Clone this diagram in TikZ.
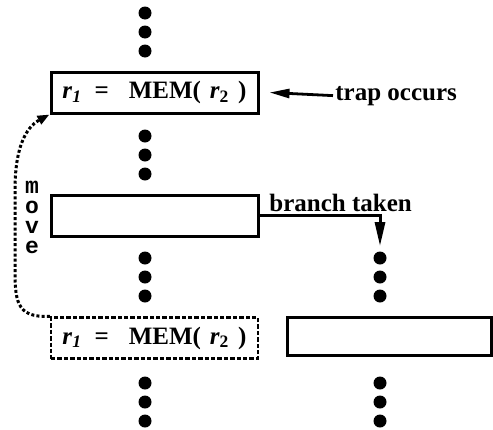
\documentclass[tikz,border=0pt]{standalone}
\usepackage{fontspec}
\setmainfont{Liberation Serif}
\newfontfamily\movefont{Liberation Mono}
\usepackage{tikz}
\usetikzlibrary{positioning}
\usetikzlibrary{arrows.meta}

\newcommand{\memtext}{\textit{r}\textsubscript{\textit{1}}\hspace{0.5em}=\hspace{0.8em}MEM(\hspace{0.35em}\textit{r}\textsubscript{2}\hspace{0.35em})}

\begin{document}
\begin{tikzpicture}[x=0.5pt, y=-0.5pt, font=\bfseries\fontsize{12.5}{15}\selectfont,
	instr/.style={rectangle, draw, line width=1.5pt, minimum width=103.5pt, minimum height=20.5pt, inner sep=0pt},
	ghost/.style={instr, line width=1.2pt, dash pattern=on 2.2pt off 1pt},
	dot/.style={circle, fill, inner sep=0pt, minimum size=6.5pt},
	letter/.style={inner sep=0pt, font=\movefont\bfseries\fontsize{11.5}{11.5}\selectfont},
	tip/.style={-{Triangle[length=10pt, width=4.5pt]}}]
	\useasboundingbox (0,0) rectangle (493,429);
	
	\def\dd{19}
	\foreach \x/\y/\n in {145/13/a, 145/136/b, 145/258/c, 145/383/d, 380/258/e, 380/383/f}
		\foreach \k in {0,1,2}
			\node[dot] (\n\k) at (\x,{\y+\dd*\k}) {};
	
	\node[instr] (mem) at (154.5,92.5) {\memtext};
	\node[instr] (br) at (154.5,215.5) {};
	\node[ghost] (mv) at (154.5,338) {\memtext};
	\node[instr, minimum width=102pt, minimum height=19pt] (tgt) at (389.5,336) {};
	
	\node[anchor=base west, inner sep=1pt] (trap) at (333,100) {trap occurs};
	\node[anchor=base west, inner sep=1pt] (taken) at (267,211) {branch taken};
	\foreach \l [count=\i from 0] in {m,o,v,e}
		\node[letter] (move\i) at (32,{187+20*\i}) {\l};
	
	\draw[line width=1.4pt, tip] (trap.west) -- ([xshift=5pt]mem.east);
	\draw[line width=1.5pt, -{Triangle[length=12pt, width=5pt]}] (br.east) -| ([yshift=2.5pt]e0.north);
	\draw[line width=1.5pt, dash pattern=on 1.5pt off 1.1pt, -{Triangle[length=6pt, width=4.5pt]}] (mv.north west) .. controls (15,318) and (15,300) .. (15,265) -- (15,190) .. controls (15,140) and (30,125) .. (mem.south west);
	
\end{tikzpicture}
\end{document}
